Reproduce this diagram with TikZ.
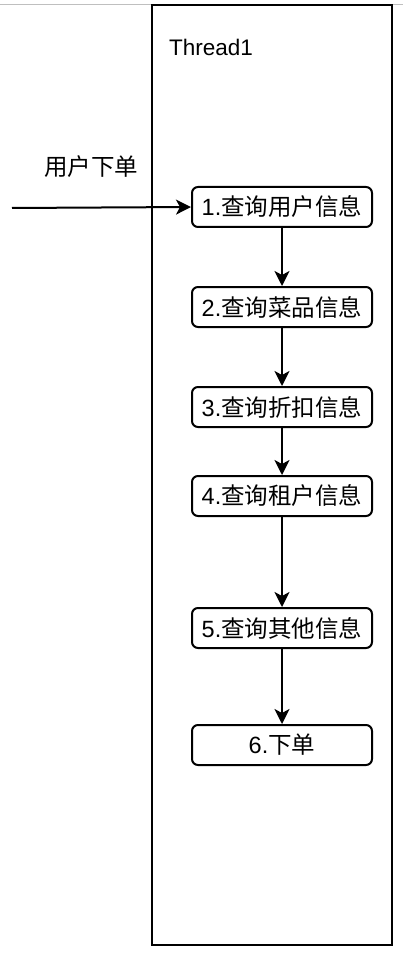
\documentclass[tikz,border=0pt]{standalone}
\usepackage{fontspec}
\setmainfont{Liberation Sans}
\newfontfamily\cjk{Noto Sans CJK SC}
\usetikzlibrary{arrows.meta}
\begin{document}
\begin{tikzpicture}[x=1pt,y=-1pt,
  stepbox/.style={draw=black,line width=2pt,rounded corners=6pt,minimum width=180pt,minimum height=40pt,inner sep=0pt,font=\fontsize{23.5}{26}\selectfont},
  conn/.style={line width=2pt,-{Stealth[length=15pt,width=15pt,inset=4pt]}},
  lbl/.style={font=\fontsize{23.5}{26}\selectfont,inner sep=0pt}]
\useasboundingbox (0,0) rectangle (403,968);
\fill[white] (0,0) rectangle (403,968);
\draw[gray!50,line width=0.8pt] (0,4) -- (403,4);
\node[draw=black,line width=2pt,minimum width=240pt,minimum height=940pt,inner sep=0pt] (thread) at (272,475) {};
\node[lbl,anchor=west,font=\fontsize{22.5}{25}\selectfont] (tlabel) at (169,47) {Thread1};
\node[lbl] (user) at (91,167) {\cjk 用户下单};
\coordinate (start) at (12,208);
\node[stepbox] (s1) at (282,207) {1.{\cjk 查询用户信息}};
\node[stepbox] (s2) at (282,307) {2.{\cjk 查询菜品信息}};
\node[stepbox] (s3) at (282,407) {3.{\cjk 查询折扣信息}};
\node[stepbox] (s4) at (282,496) {4.{\cjk 查询租户信息}};
\node[stepbox] (s5) at (282,628) {5.{\cjk 查询其他信息}};
\node[stepbox] (s6) at (282,745) {6.{\cjk 下单}};
\draw[conn] (start) -- (s1.west);
\draw[conn] (s1) -- (s2);
\draw[conn] (s2) -- (s3);
\draw[conn] (s3) -- (s4);
\draw[conn] (s4) -- (s5);
\draw[conn] (s5) -- (s6);
\end{tikzpicture}
\end{document}
